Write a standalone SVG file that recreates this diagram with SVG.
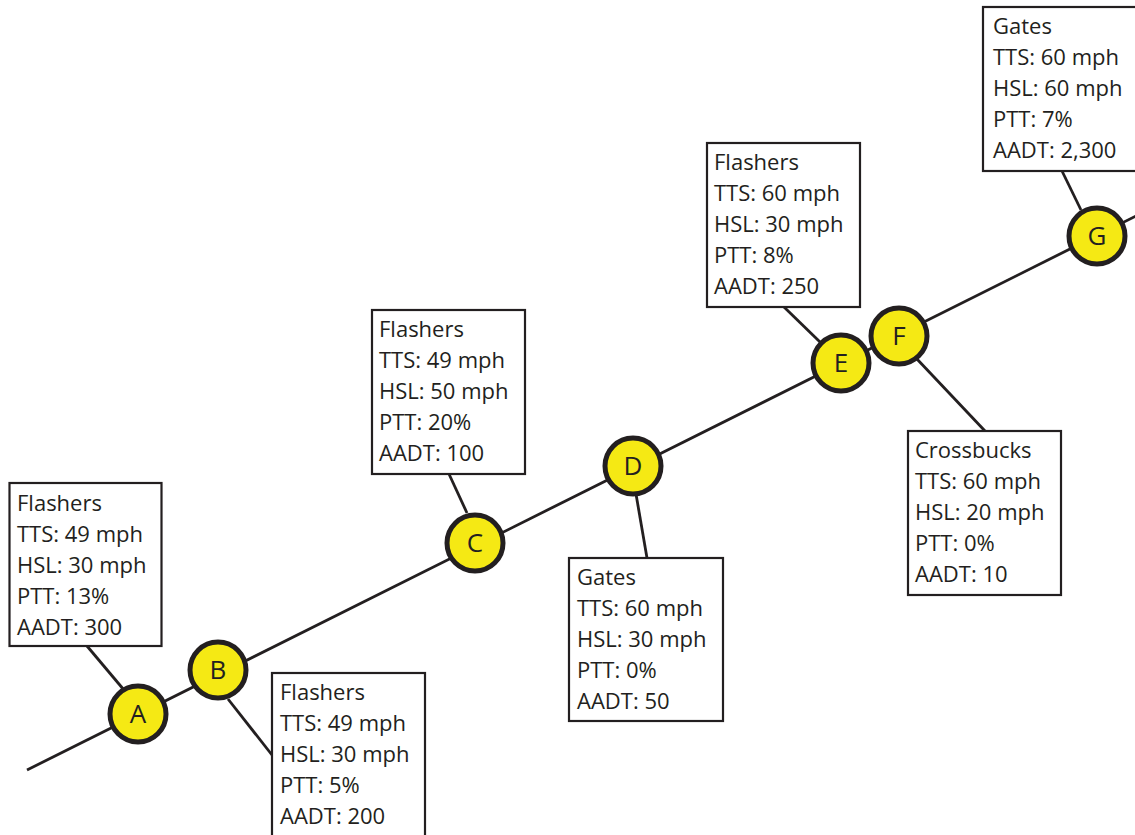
<svg xmlns="http://www.w3.org/2000/svg" width="1135" height="835" viewBox="0 0 1135 835">
<style>
.box{fill:#fff;stroke:#231f20;stroke-width:2.2}
.ln{stroke:#231f20;stroke-width:2.8;fill:none}
.nd{fill:#f5e914;stroke:#231f20;stroke-width:5}
.t{font-family:"Open Sans","Noto Sans",sans-serif;font-size:22px;fill:#231f20}
.lb{font-family:"Open Sans","Noto Sans",sans-serif;font-size:26px;fill:#231f20;text-anchor:middle}
</style>
<rect width="1135" height="835" fill="#fff"/>
<g id="connectors">
<line class="ln" x1="27" y1="770" x2="1140" y2="214"/>
<line class="ln" x1="87" y1="646" x2="124" y2="690"/>
<line class="ln" x1="228" y1="699" x2="272" y2="755"/>
<line class="ln" x1="449" y1="474" x2="467" y2="513"/>
<line class="ln" x1="636" y1="494" x2="647" y2="558"/>
<line class="ln" x1="784" y1="307" x2="820" y2="342"/>
<line class="ln" x1="916" y1="358" x2="985" y2="431"/>
<line class="ln" x1="1062" y1="171" x2="1081" y2="210"/>
</g>
<g id="boxA">
<rect class="box" x="9.5" y="483" width="152" height="163"/>
<text class="t"><tspan x="17" y="511">Flashers</tspan><tspan x="17" y="542">TTS: 49 mph</tspan><tspan x="17" y="573">HSL: 30 mph</tspan><tspan x="17" y="604">PTT: 13%</tspan><tspan x="17" y="635">AADT: 300</tspan></text>
</g>
<g id="boxB">
<rect class="box" x="272" y="673" width="153" height="170"/>
<text class="t"><tspan x="280" y="700">Flashers</tspan><tspan x="280" y="731">TTS: 49 mph</tspan><tspan x="280" y="762">HSL: 30 mph</tspan><tspan x="280" y="793">PTT: 5%</tspan><tspan x="280" y="824">AADT: 200</tspan></text>
</g>
<g id="boxC">
<rect class="box" x="372" y="310" width="153" height="164"/>
<text class="t"><tspan x="379" y="337">Flashers</tspan><tspan x="379" y="368">TTS: 49 mph</tspan><tspan x="379" y="399">HSL: 50 mph</tspan><tspan x="379" y="430">PTT: 20%</tspan><tspan x="379" y="461">AADT: 100</tspan></text>
</g>
<g id="boxD">
<rect class="box" x="569" y="558" width="154" height="163"/>
<text class="t"><tspan x="577" y="585">Gates</tspan><tspan x="577" y="616">TTS: 60 mph</tspan><tspan x="577" y="647">HSL: 30 mph</tspan><tspan x="577" y="678">PTT: 0%</tspan><tspan x="577" y="709">AADT: 50</tspan></text>
</g>
<g id="boxE">
<rect class="box" x="707" y="143" width="153" height="164"/>
<text class="t"><tspan x="714" y="170">Flashers</tspan><tspan x="714" y="201">TTS: 60 mph</tspan><tspan x="714" y="232">HSL: 30 mph</tspan><tspan x="714" y="263">PTT: 8%</tspan><tspan x="714" y="294">AADT: 250</tspan></text>
</g>
<g id="boxF">
<rect class="box" x="908" y="431" width="153" height="164"/>
<text class="t"><tspan x="915" y="458">Crossbucks</tspan><tspan x="915" y="489">TTS: 60 mph</tspan><tspan x="915" y="520">HSL: 20 mph</tspan><tspan x="915" y="551">PTT: 0%</tspan><tspan x="915" y="582">AADT: 10</tspan></text>
</g>
<g id="boxG">
<rect class="box" x="983" y="7" width="170" height="164"/>
<text class="t"><tspan x="993" y="34">Gates</tspan><tspan x="993" y="65">TTS: 60 mph</tspan><tspan x="993" y="96">HSL: 60 mph</tspan><tspan x="993" y="127">PTT: 7%</tspan><tspan x="993" y="158">AADT: 2,300</tspan></text>
</g>
<g id="nodeA"><circle class="nd" cx="138" cy="714" r="28"/><text class="lb" x="138" y="723">A</text></g>
<g id="nodeB"><circle class="nd" cx="218" cy="670" r="28"/><text class="lb" x="218" y="679">B</text></g>
<g id="nodeC"><circle class="nd" cx="475" cy="543" r="28"/><text class="lb" x="475" y="552">C</text></g>
<g id="nodeD"><circle class="nd" cx="633" cy="466" r="28"/><text class="lb" x="633" y="475">D</text></g>
<g id="nodeE"><circle class="nd" cx="841" cy="363" r="28"/><text class="lb" x="841" y="372">E</text></g>
<g id="nodeF"><circle class="nd" cx="899" cy="336" r="28"/><text class="lb" x="899" y="345">F</text></g>
<g id="nodeG"><circle class="nd" cx="1097" cy="236" r="28"/><text class="lb" x="1097" y="245">G</text></g>
</svg>
